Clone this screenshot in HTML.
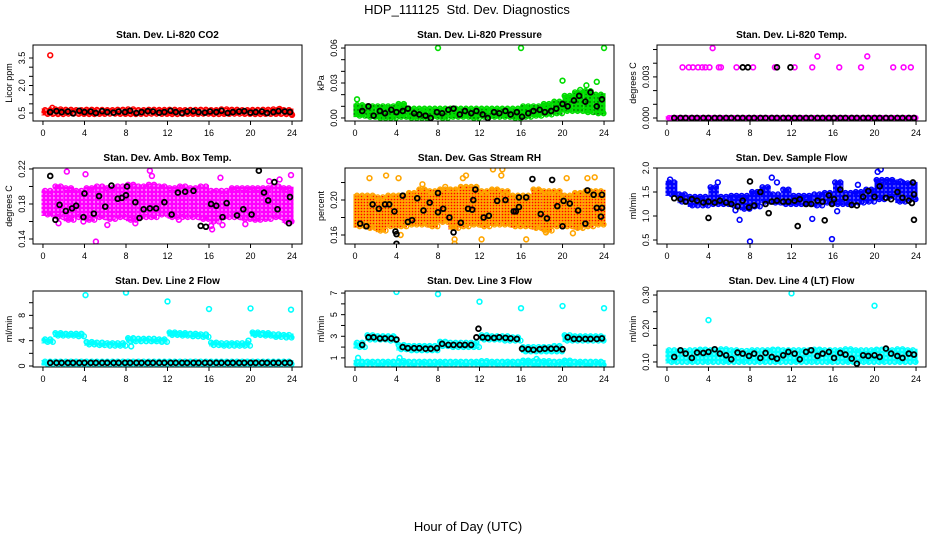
<!DOCTYPE html>
<html><head><meta charset="utf-8">
<style>
html,body{margin:0;padding:0;background:#fff;}
svg{display:block;font-family:"Liberation Sans",Arial,sans-serif;}
</style></head>
<body>
<svg id="chart" width="936" height="540" viewBox="0 0 936 540" xmlns="http://www.w3.org/2000/svg">
<defs>
<pattern id="pat-red" width="4" height="4" patternUnits="userSpaceOnUse"><rect width="4" height="4" fill="#ff0000"/><circle cx="2" cy="2" r="0.7" fill="#fff"/></pattern>
<pattern id="pat-green" width="4" height="4" patternUnits="userSpaceOnUse"><rect width="4" height="4" fill="#00dd00"/><circle cx="2" cy="2" r="0.7" fill="#003300"/></pattern>
<pattern id="pat-magenta" width="4" height="4" patternUnits="userSpaceOnUse"><rect width="4" height="4" fill="#ff00ff"/><circle cx="2" cy="2" r="0.7" fill="#fff"/></pattern>
<pattern id="pat-orange" width="3" height="3" patternUnits="userSpaceOnUse"><rect width="3" height="3" fill="#ffa500"/><circle cx="1.5" cy="1.5" r="0.8" fill="#ff0000"/></pattern>
<pattern id="pat-blue" width="4" height="4" patternUnits="userSpaceOnUse"><rect width="4" height="4" fill="#0000ff"/><circle cx="2" cy="2" r="0.6" fill="#fff"/></pattern>
<pattern id="pat-cyan" width="4" height="4" patternUnits="userSpaceOnUse"><rect width="4" height="4" fill="#00ffff"/><circle cx="2" cy="2" r="0.6" fill="#fff"/></pattern>
</defs>
<text x="467" y="14" font-size="13" text-anchor="middle">HDP_111125&#160; Std. Dev. Diagnostics</text>
<text x="468" y="531" font-size="13" text-anchor="middle">Hour of Day (UTC)</text>
</svg>
<script>
// ---- shared hours ----
const xTicks = [0,4,8,12,16,20,24];
const blkHours = [0.7,1.3,1.8,2.4,2.9,3.5,4.0,4.6,5.1,5.7,6.2,6.8,7.3,7.9,8.4,9.0,9.5,10.1,10.6,11.2,11.7,12.3,12.8,13.4,13.9,14.5,15.0,15.6,16.1,16.7,17.2,17.8,18.3,18.9,19.4,20.0,20.5,21.1,21.6,22.2,22.7,23.3,23.8];

// ---- Panel 1: CO2 ----
const co2Lo = [0.45,0.44,0.46,0.45,0.44,0.45,0.46,0.45,0.44,0.45,0.46,0.45,0.44,0.45,0.45,0.46,0.44,0.45,0.46,0.45,0.44,0.45,0.45,0.44];
const co2Hi = [0.66,0.70,0.68,0.66,0.68,0.67,0.66,0.68,0.70,0.66,0.68,0.67,0.68,0.66,0.67,0.68,0.66,0.70,0.68,0.66,0.67,0.68,0.70,0.66];
const co2OutX = [0.7,0.9,22.8,24.0];
const co2OutY = [3.65,0.78,0.72,0.40];
const co2BlkY = [0.55,0.60,0.55,0.58,0.48,0.62,0.55,0.58,0.50,0.60,0.55,0.52,0.58,0.55,0.62,0.50,0.55,0.60,0.58,0.52,0.55,0.62,0.55,0.50,0.58,0.60,0.55,0.52,0.58,0.55,0.62,0.50,0.55,0.58,0.60,0.52,0.55,0.58,0.50,0.55,0.60,0.58,0.55];
const co2Ticks = [0.5,1,1.5,2,2.5,3,3.5];
const co2Labels = ["0.5","","","2.0","","","3.5"];

// ---- Panel 2: Pressure ----
const presLo = [0.002,0.001,0.000,0.000,0.001,0.000,0.000,0.001,0.000,0.001,0.001,0.000,0.001,0.001,0.001,0.000,0.001,0.002,0.003,0.004,0.006,0.006,0.005,0.004];
const presHi = [0.011,0.010,0.010,0.010,0.012,0.008,0.008,0.008,0.008,0.008,0.008,0.008,0.008,0.008,0.008,0.008,0.010,0.010,0.012,0.014,0.019,0.022,0.023,0.020];
const presOutX = [0.2,8.0,16.0,24.0,20.0,22.3,23.3,21.7];
const presOutY = [0.016,0.060,0.060,0.060,0.032,0.028,0.031,0.024];
const presBlkY = [0.006,0.010,0.002,0.006,0.004,0.007,0.005,0.006,0.008,0.004,0.003,0.002,0.000,0.005,0.004,0.007,0.008,0.003,0.006,0.004,0.006,0.003,0.000,0.005,0.004,0.006,0.003,0.005,0.001,0.004,0.006,0.007,0.005,0.006,0.008,0.012,0.010,0.015,0.019,0.014,0.022,0.010,0.016];
const presTicks = [0,0.01,0.02,0.03,0.04,0.05,0.06];
const presLabels = ["0.00","","","0.03","","","0.06"];

// ---- Panel 3: Temp ----
const tempLo = [0,0,0,0,0,0,0,0,0,0,0,0,0,0,0,0,0,0,0,0,0,0,0,0];
const tempHi = [0,0,0,0,0,0,0,0,0,0,0,0,0,0,0,0,0,0,0,0,0,0,0,0];
const tempOutX = [1.5,2.1,2.5,3.0,3.4,3.7,4.1,5.0,5.2,6.7,8.3,10.4,12.3,14.0,16.6,18.7,21.8,22.8,23.5,14.5,19.3,4.4];
const tempOutY = [0.0037,0.0037,0.0037,0.0037,0.0037,0.0037,0.0037,0.0037,0.0037,0.0037,0.0037,0.0037,0.0037,0.0037,0.0037,0.0037,0.0037,0.0037,0.0037,0.0045,0.0045,0.0051];
const tempBlkY = [0,0,0,0,0,0,0,0,0,0,0,0,0,0,0,0,0,0,0,0,0,0,0,0,0,0,0,0,0,0,0,0,0,0,0,0,0,0,0,0,0,0,0];
const tempExtraX = [7.3,7.8,10.6,11.9];
const tempExtraY = [0.0037,0.0037,0.0037,0.0037];
const tempTicks = [0,0.001,0.002,0.003,0.004,0.005];
const tempLabels = ["0.000","","","0.003","",""];

// ---- Panel 4: Amb Box Temp ----
const ambLo = [0.168,0.165,0.162,0.165,0.162,0.165,0.163,0.165,0.162,0.165,0.165,0.168,0.165,0.165,0.165,0.163,0.160,0.165,0.165,0.163,0.162,0.163,0.165,0.160];
const ambHi = [0.195,0.200,0.198,0.195,0.198,0.200,0.198,0.200,0.202,0.200,0.202,0.200,0.198,0.200,0.198,0.200,0.195,0.195,0.198,0.198,0.198,0.198,0.200,0.198];
const ambOutX = [2.3,4.1,5.1,10.3,10.5,16.3,16.2,17.3,17.1,19.5,21.8,22.8,23.9,3.9,13.1,1.5,6.2,8.9];
const ambOutY = [0.217,0.214,0.137,0.218,0.212,0.151,0.155,0.156,0.210,0.157,0.206,0.208,0.213,0.160,0.162,0.158,0.156,0.158];
const ambBlkX = [0.7,1.2,1.6,2.2,2.8,3.2,4.0,3.9,4.9,5.4,6.0,6.6,7.2,7.6,8.0,8.1,8.9,9.3,9.7,10.3,10.9,11.7,12.4,13.0,13.7,14.5,15.2,15.7,16.2,16.7,17.3,17.7,18.7,19.3,20.1,20.8,21.3,21.7,22.3,22.6,23.7,23.8];
const ambBlkY = [0.212,0.162,0.179,0.172,0.175,0.178,0.192,0.165,0.169,0.189,0.177,0.201,0.186,0.187,0.190,0.200,0.182,0.164,0.174,0.175,0.175,0.182,0.168,0.193,0.194,0.195,0.155,0.154,0.180,0.178,0.165,0.181,0.167,0.174,0.168,0.218,0.193,0.184,0.205,0.174,0.158,0.188];
const ambTicks = [0.14,0.16,0.18,0.20,0.22];
const ambLabels = ["0.14","","0.18","","0.22"];

// ---- Panel 5: Gas Stream RH ----
const rhLo = [0.170,0.168,0.165,0.170,0.170,0.172,0.172,0.170,0.175,0.168,0.170,0.172,0.170,0.172,0.172,0.170,0.170,0.168,0.165,0.170,0.170,0.168,0.170,0.172];
const rhHi = [0.205,0.205,0.203,0.205,0.205,0.208,0.212,0.210,0.212,0.212,0.215,0.215,0.210,0.212,0.210,0.205,0.205,0.212,0.210,0.210,0.205,0.208,0.210,0.210];
const rhOutX = [1.4,3.0,4.2,4.4,6.5,8.7,9.6,9.6,10.4,10.7,12.2,13.3,14.2,14.1,16.5,18.4,20.4,21.0,22.4,23.1];
const rhOutY = [0.225,0.228,0.225,0.160,0.218,0.215,0.150,0.155,0.225,0.228,0.155,0.235,0.235,0.228,0.155,0.163,0.225,0.162,0.225,0.226];
const rhBlkX = [0.5,1.1,1.7,2.3,2.9,3.3,3.8,3.9,4.0,4.0,4.6,5.1,5.5,6.0,6.6,7.2,8.0,8.0,8.5,9.1,9.5,10.2,10.9,11.3,11.4,11.6,12.4,12.9,13.7,14.5,15.3,15.5,15.8,15.8,16.5,17.1,17.9,18.5,19.0,19.5,20.1,20.0,20.7,21.5,22.2,22.4,23.0,23.3,23.7,23.8,23.8];
const rhBlkY = [0.173,0.170,0.195,0.190,0.195,0.195,0.187,0.164,0.161,0.150,0.205,0.175,0.177,0.202,0.188,0.197,0.186,0.208,0.190,0.180,0.163,0.174,0.190,0.189,0.200,0.212,0.180,0.182,0.199,0.200,0.187,0.187,0.192,0.203,0.203,0.224,0.184,0.179,0.223,0.193,0.199,0.170,0.196,0.188,0.173,0.211,0.206,0.191,0.181,0.191,0.206];
const rhTicks = [0.16,0.18,0.20,0.22];
const rhLabels = ["0.16","","0.20",""];

// ---- Panel 6: Sample Flow ----
const sfLo = [1.45,1.30,1.22,1.22,1.25,1.25,1.22,1.15,1.20,1.30,1.28,1.25,1.25,1.25,1.22,1.28,1.25,1.25,1.28,1.30,1.35,1.40,1.30,1.35];
const sfHi = [1.70,1.45,1.40,1.40,1.60,1.40,1.42,1.42,1.50,1.60,1.45,1.55,1.42,1.42,1.45,1.48,1.70,1.48,1.50,1.55,1.75,1.75,1.70,1.68];
const sfOutX = [8.0,15.9,7.0,14.0,10.1,10.6,20.6,20.3,0.3,4.9,6.6,16.4,18.4,22.5];
const sfOutY = [0.47,0.52,0.92,0.94,1.80,1.70,1.97,1.92,1.76,1.70,1.12,1.10,1.65,1.72];
const sfBlkY = [1.37,1.35,1.30,1.35,1.32,1.28,1.30,1.28,1.32,1.28,1.25,1.20,1.32,1.18,1.22,1.50,1.25,1.30,1.32,1.30,1.30,1.32,1.35,1.25,1.25,1.32,1.30,1.43,1.35,1.55,1.38,1.23,1.22,1.40,1.52,1.40,1.62,1.38,1.35,1.50,1.38,1.32,1.45];
const sfExtraX = [4.0,9.8,12.6,15.2,23.8,8.0,23.7,15.9,23.6];
const sfExtraY = [0.96,1.06,0.79,0.91,0.92,1.72,1.70,1.25,1.27];
const sfTicks = [0.5,1.0,1.5,2.0];
const sfLabels = ["0.5","1.0","1.5","2.0"];

// ---- Panel 7: Line 2 Flow ----
const l2UpLo = [3.8,4.8,4.8,4.7,3.4,3.3,3.2,3.2,3.9,3.9,3.9,3.8,4.9,4.8,4.7,4.6,3.3,3.2,3.2,3.2,4.9,4.8,4.6,4.5];
const l2UpHi = [4.2,5.2,5.1,5.1,3.8,3.7,3.6,3.6,4.4,4.3,4.3,4.2,5.3,5.2,5.1,5.0,3.7,3.6,3.6,3.6,5.3,5.2,5.0,4.9];
const l2DnLo = [0.3,0.3,0.3,0.3,0.3,0.3,0.3,0.3,0.3,0.3,0.3,0.3,0.3,0.3,0.3,0.3,0.3,0.3,0.3,0.3,0.3,0.3,0.3,0.3];
const l2DnHi = [0.7,0.7,0.7,0.7,0.7,0.7,0.7,0.7,0.7,0.7,0.7,0.7,0.7,0.7,0.7,0.7,0.7,0.7,0.7,0.7,0.7,0.7,0.7,0.7];
const l2OutX = [4.1,8.0,12.0,16.0,20.0,23.9,8.5,19.8];
const l2OutY = [11.2,11.6,10.2,9.0,9.1,8.9,3.1,4.0];
const l2BlkY = [0.5,0.5,0.5,0.5,0.5,0.5,0.5,0.5,0.5,0.5,0.5,0.5,0.5,0.5,0.5,0.5,0.5,0.5,0.5,0.5,0.5,0.5,0.5,0.5,0.5,0.5,0.5,0.5,0.5,0.5,0.5,0.5,0.5,0.5,0.5,0.5,0.5,0.5,0.5,0.5,0.5,0.5,0.5];
const l2Ticks = [0,2,4,6,8,10];
const l2Labels = ["0","","4","","8",""];

// ---- Panel 8: Line 3 Flow ----
const l3UpLo = [2.0,2.7,2.7,2.6,1.8,1.7,1.7,1.7,2.1,2.0,2.0,2.0,2.7,2.7,2.6,2.6,1.6,1.6,1.6,1.6,2.6,2.6,2.6,2.6];
const l3UpHi = [2.4,3.1,3.0,3.0,2.2,2.1,2.1,2.1,2.5,2.4,2.4,2.4,3.1,3.0,3.0,2.9,2.0,2.0,2.0,2.1,3.1,3.0,3.0,3.0];
const l3DnLo = [0.35,0.35,0.35,0.35,0.35,0.35,0.35,0.35,0.35,0.35,0.35,0.35,0.35,0.35,0.35,0.35,0.35,0.35,0.35,0.35,0.35,0.35,0.35,0.35];
const l3DnHi = [0.65,0.65,0.65,0.65,0.70,0.65,0.65,0.65,0.65,0.65,0.65,0.65,0.70,0.65,0.65,0.65,0.75,0.70,0.70,0.65,0.75,0.65,0.65,0.65];
const l3OutX = [0.3,4.0,8.0,12.0,16.0,20.0,24.0,4.3,17.5];
const l3OutY = [1.0,7.1,6.9,6.2,5.6,5.8,5.6,1.0,0.9];
const l3BlkY = [2.2,2.9,2.9,2.8,2.8,2.8,2.7,2.0,1.9,1.9,1.9,1.85,1.85,1.9,2.3,2.2,2.2,2.2,2.2,2.2,2.9,2.9,2.85,2.85,2.9,2.85,2.8,2.75,1.85,1.8,1.75,1.8,1.85,1.85,1.85,1.8,2.9,2.75,2.75,2.75,2.75,2.75,2.8];
const l3ExtraX = [11.9];
const l3ExtraY = [3.7];
const l3Ticks = [1,2,3,4,5,6,7];
const l3Labels = ["1","","3","","5","","7"];

// ---- Panel 9: Line 4 Flow ----
const l4Lo = [0.100,0.100,0.100,0.100,0.100,0.100,0.100,0.100,0.100,0.100,0.100,0.100,0.100,0.100,0.100,0.100,0.100,0.100,0.100,0.100,0.100,0.100,0.100,0.100];
const l4Hi = [0.135,0.133,0.135,0.137,0.135,0.138,0.135,0.133,0.135,0.135,0.137,0.135,0.135,0.135,0.137,0.135,0.135,0.138,0.135,0.135,0.137,0.135,0.138,0.135];
const l4OutX = [4.0,12.0,20.0];
const l4OutY = [0.225,0.305,0.268];
const l4BlkY = [0.115,0.135,0.125,0.112,0.128,0.127,0.130,0.138,0.125,0.120,0.108,0.128,0.125,0.118,0.125,0.112,0.127,0.115,0.110,0.120,0.130,0.125,0.108,0.130,0.135,0.118,0.125,0.130,0.112,0.127,0.122,0.110,0.095,0.120,0.118,0.120,0.115,0.140,0.125,0.118,0.112,0.125,0.122];
const l4Ticks = [0.10,0.15,0.20,0.25,0.30];
const l4Labels = ["0.10","","0.20","","0.30"];

const NS = "http://www.w3.org/2000/svg";
const svg = document.getElementById("chart");
function mk(tag, attrs, parent){
  const e = document.createElementNS(NS, tag);
  for (const k in attrs) e.setAttribute(k, attrs[k]);
  (parent||svg).appendChild(e);
  return e;
}

function drawPanel(p){
  const g = mk("g", {});
  
  
  const L = p.left, T = p.top, W = 269, H = 76;
  const x0 = -0.96, x1 = 24.96;
  const sx = v => L + (v - x0) / (x1 - x0) * W;
  const sy = v => T + H - (v - p.ymin) / (p.ymax - p.ymin) * H;
  const clip = "clip-" + p.name;
  const cp = mk("clipPath", {id: clip}, g);
  mk("rect", {x: L, y: T, width: W, height: H}, cp);
  const plot = mk("g", {"clip-path": "url(#" + clip + ")"}, g);
  const pt = (x, y, color, nm, sw) => {
    const c = mk("circle", {cx: sx(x), cy: sy(y), r: 2.4, fill: "none", stroke: color, "stroke-width": sw}, plot);
    
    
  };
  // bands
  (p.bands || []).forEach(b => {
    for (let i = 0; i < b.lo.length; i++) {
      const ya = sy(b.hi[i]) - 1.5, yb = sy(b.lo[i]) + 1.5;
      const r = mk("rect", {x: sx(i) - (i === 0 ? 1.5 : 0), y: ya, width: sx(i + 1) - sx(i) + (i === 0 ? 1.5 : 0) + (i === b.lo.length - 1 ? 1.5 : 0), height: Math.max(yb - ya, 3), fill: "url(#" + p.pat + ")"}, plot);
      
      
      // ragged edge rings at band edges
      [0.2, 0.7].forEach((f, k) => {
        pt(i + f, b.hi[i], p.color, 'band-edge-point', 1.4);
        pt(i + f + 0.25, b.lo[i], p.color, 'band-edge-point', 1.4);
      });
    }
  });
  p.outX.forEach((x, i) => pt(x, p.outY[i], p.color, 'outlier-point', 1.6));
  const bx = p.blkX, by = p.blkY;
  for (let i = 0; i < Math.min(bx.length, by.length); i++) pt(bx[i], by[i], "#000", 'hourly-point', 1.8);
  if (p.exX) p.exX.forEach((x, i) => pt(x, p.exY[i], "#000", 'hourly-point', 1.8));
  // box
  const box = mk("rect", {x: L, y: T, width: W, height: H, fill: "none", stroke: "#000", "stroke-width": 1}, g);
  
  
  xTicks.forEach(t => {
    mk("line", {x1: sx(t), x2: sx(t), y1: T + H, y2: T + H + 4, stroke: "#000"}, g);
    const tx = mk("text", {x: sx(t), y: T + H + 15, "font-size": 9, "text-anchor": "middle"}, g);
    tx.textContent = t;
    
    
  });
  p.ticks.forEach((t, i) => {
    mk("line", {x1: L, x2: L - 4, y1: sy(t), y2: sy(t), stroke: "#000"}, g);
    if (p.labels[i]) {
      const ty = mk("text", {x: L - 8, y: sy(t), "font-size": 9, "text-anchor": "middle", transform: "rotate(-90 " + (L - 8) + " " + sy(t) + ")"}, g);
      ty.textContent = p.labels[i];
      
      
    }
  });
  const yl = mk("text", {x: L - 21, y: T + H / 2, "font-size": 9, "text-anchor": "middle", transform: "rotate(-90 " + (L - 21) + " " + (T + H / 2) + ")"}, g);
  yl.textContent = p.ylab;
  
  
  const ti = mk("text", {x: L + W / 2, y: T - 7, "font-size": 10, "font-weight": "bold", "text-anchor": "middle"}, g);
  ti.textContent = p.title;
  
  
}

const C1 = 33, C2 = 345, C3 = 657, R1 = 45, R2 = 168, R3 = 291;
drawPanel({name:"co2", left:C1, top:R1, ymin:0.064, ymax:4.21, title:"Stan. Dev. Li-820 CO2", ylab:"Licor ppm", color:"#ff0000", pat:"pat-red", bands:[{lo:co2Lo, hi:co2Hi}], outX:co2OutX, outY:co2OutY, blkX:blkHours, blkY:co2BlkY, ticks:co2Ticks, labels:co2Labels});
drawPanel({name:"pressure", left:C2, top:R1, ymin:-0.0026, ymax:0.0626, title:"Stan. Dev. Li-820 Pressure", ylab:"kPa", color:"#00dd00", pat:"pat-green", bands:[{lo:presLo, hi:presHi}], outX:presOutX, outY:presOutY, blkX:blkHours, blkY:presBlkY, ticks:presTicks, labels:presLabels});
drawPanel({name:"temp", left:C3, top:R1, ymin:-0.00022, ymax:0.00533, title:"Stan. Dev. Li-820 Temp.", ylab:"degrees C", color:"#ff00ff", pat:"pat-magenta", bands:[{lo:tempLo, hi:tempHi}], outX:tempOutX, outY:tempOutY, blkX:blkHours, blkY:tempBlkY, exX:tempExtraX, exY:tempExtraY, ticks:tempTicks, labels:tempLabels});
drawPanel({name:"amb-temp", left:C1, top:R2, ymin:0.1343, ymax:0.2211, title:"Stan. Dev. Amb. Box Temp.", ylab:"degrees C", color:"#ff00ff", pat:"pat-magenta", bands:[{lo:ambLo, hi:ambHi}], outX:ambOutX, outY:ambOutY, blkX:ambBlkX, blkY:ambBlkY, ticks:ambTicks, labels:ambLabels});
drawPanel({name:"rh", left:C2, top:R2, ymin:0.1497, ymax:0.2366, title:"Stan. Dev. Gas Stream RH", ylab:"percent", color:"#ffa500", pat:"pat-orange", bands:[{lo:rhLo, hi:rhHi}], outX:rhOutX, outY:rhOutY, blkX:rhBlkX, blkY:rhBlkY, ticks:rhTicks, labels:rhLabels});
drawPanel({name:"sample-flow", left:C3, top:R2, ymin:0.417, ymax:2.0, title:"Stan. Dev. Sample Flow", ylab:"ml/min", color:"#0000ff", pat:"pat-blue", bands:[{lo:sfLo, hi:sfHi}], outX:sfOutX, outY:sfOutY, blkX:blkHours, blkY:sfBlkY, exX:sfExtraX, exY:sfExtraY, ticks:sfTicks, labels:sfLabels});
drawPanel({name:"line2", left:C1, top:R3, ymin:-0.16, ymax:11.85, title:"Stan. Dev. Line 2 Flow", ylab:"ml/min", color:"#00ffff", pat:"pat-cyan", bands:[{lo:l2UpLo, hi:l2UpHi},{lo:l2DnLo, hi:l2DnHi}], outX:l2OutX, outY:l2OutY, blkX:blkHours, blkY:l2BlkY, ticks:l2Ticks, labels:l2Labels});
drawPanel({name:"line3", left:C2, top:R3, ymin:0.156, ymax:7.19, title:"Stan. Dev. Line 3 Flow", ylab:"ml/min", color:"#00ffff", pat:"pat-cyan", bands:[{lo:l3UpLo, hi:l3UpHi},{lo:l3DnLo, hi:l3DnHi}], outX:l3OutX, outY:l3OutY, blkX:blkHours, blkY:l3BlkY, exX:l3ExtraX, exY:l3ExtraY, ticks:l3Ticks, labels:l3Labels});
drawPanel({name:"line4", left:C3, top:R3, ymin:0.085, ymax:0.312, title:"Stan. Dev. Line 4 (LT) Flow", ylab:"ml/min", color:"#00ffff", pat:"pat-cyan", bands:[{lo:l4Lo, hi:l4Hi}], outX:l4OutX, outY:l4OutY, blkX:blkHours, blkY:l4BlkY, ticks:l4Ticks, labels:l4Labels});
</script>
</body></html>
